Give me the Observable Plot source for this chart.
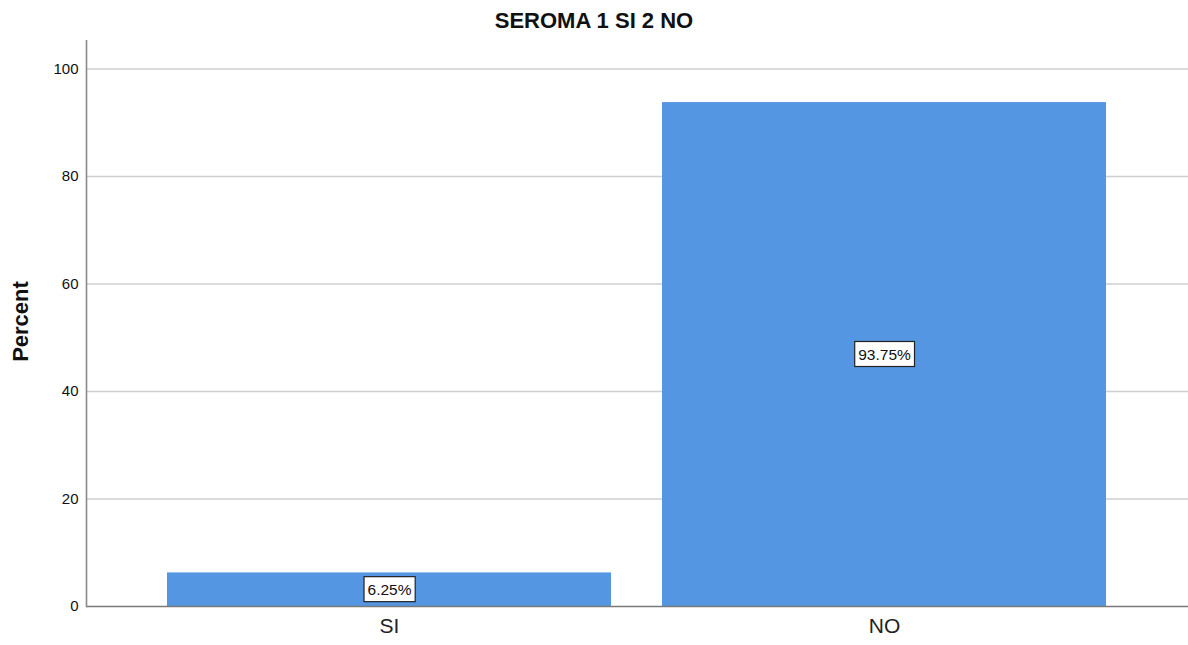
<!DOCTYPE html>
<html>
<head>
<meta charset="utf-8">
<script src="https://cdn.jsdelivr.net/npm/d3@7"></script>
<script src="https://cdn.jsdelivr.net/npm/@observablehq/plot@0.6"></script>
<style>
  html, body { margin: 0; padding: 0; background: #fff; }
  #title { height: 40px; line-height: 42px; text-align: center; font-family: "Liberation Sans", Arial, sans-serif; font-weight: bold; font-size: 22px; color: #111; width: 1188px; }
</style>
</head>
<body>
<div id="title">SEROMA 1 SI 2 NO</div>
<div id="chart"></div>
<script>
const categories = ["SI", "NO"];
const percents = [6.25, 93.75];
const labels = ["6.25%", "93.75%"];
const yTicks = [0, 20, 40, 60, 80, 100];

const data = categories.map((c, i) => ({cat: c, pct: percents[i], label: labels[i]}));

const chart = Plot.plot({
  width: 1188,
  height: 605,
  marginLeft: 86,
  marginRight: 0,
  marginTop: 0,
  marginBottom: 39,
  style: {fontFamily: "'Liberation Sans', Arial, sans-serif", color: "#111", background: "#fff"},
  x: {domain: categories, paddingInner: 0.103, paddingOuter: 0.163, label: null},
  y: {domain: [0, 105.3], label: null},
  marks: [
    Plot.gridY(yTicks.filter(d => d > 0), {stroke: "#cfcfcf", strokeOpacity: 1, strokeWidth: 1.6}),
    Plot.barY(data, {x: "cat", y: "pct", fill: "#5596e3"}),
    Plot.ruleY([0], {stroke: "#7a7a7a", strokeWidth: 1.6}),
    Plot.frame({anchor: "left", stroke: "#8a8a8a", strokeWidth: 1.6}),
    Plot.axisY({ticks: yTicks, tickSize: 0, tickPadding: 8, fontSize: 15, label: null}),
    Plot.axisX({tickSize: 0, tickPadding: 12, fontSize: 21, label: null, fill: "#222"}),
    Plot.text(["Percent"], {frameAnchor: "left", textAnchor: "middle", dx: -66, dy: -2, rotate: -90, fontSize: 22, fontWeight: "bold", fill: "#111"}),
    Plot.text(data, {x: "cat", y: d => d.pct / 2, text: "label", fontSize: 15.5, fill: "#111", className: "barlabel"})
  ]
});
document.getElementById("chart").append(chart);

// white boxes with dark border behind value labels
d3.select(chart).selectAll("g.barlabel text, g[aria-label='text'] text").each(function() {
  const t = this.textContent;
  if (!labels.includes(t)) return;
  const bb = this.getBBox();
  const padX = 3.5, h = 25;
  const parent = this.parentNode;
  const rect = document.createElementNS("http://www.w3.org/2000/svg", "rect");
  rect.setAttribute("x", bb.x - padX);
  rect.setAttribute("y", bb.y + bb.height / 2 - h / 2);
  rect.setAttribute("width", bb.width + 2 * padX);
  rect.setAttribute("height", h);
  rect.setAttribute("fill", "#fff");
  rect.setAttribute("stroke", "#222");
  rect.setAttribute("stroke-width", 1.2);
  const tr = this.getAttribute("transform");
  if (tr) rect.setAttribute("transform", tr);
  parent.insertBefore(rect, this);
});
</script>
</body>
</html>
